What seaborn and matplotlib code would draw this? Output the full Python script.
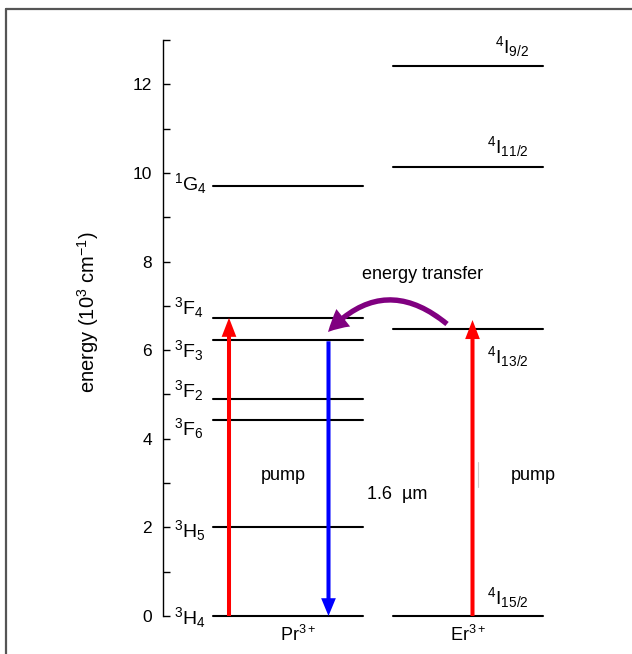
import numpy as np
import pandas as pd
import matplotlib
matplotlib.use("Agg")
import matplotlib.pyplot as plt
from matplotlib.lines import Line2D
import seaborn as sns

# Energy levels (10^3 cm^-1)
pr_levels = ["3H4", "3H5", "3F6", "3F2", "3F3", "3F4", "1G4"]
pr_energy = [0.0, 2.0, 4.42, 4.9, 6.23, 6.73, 9.71]
pr_labels = [r"$^3H_4$", r"$^3H_5$", r"$^3F_6$", r"$^3F_2$", r"$^3F_3$", r"$^3F_4$", r"$^1G_4$"]

er_levels = ["4I15/2", "4I13/2", "4I11/2", "4I9/2"]
er_energy = [0.0, 6.48, 10.14, 12.42]
er_labels = [r"$^4I_{15/2}$", r"$^4I_{13/2}$", r"$^4I_{11/2}$", r"$^4I_{9/2}$"]

# Transitions (start, end energies)
pr_pump = (0.0, 6.73)
pr_emission = (6.2, 0.0)
er_pump = (0.0, 6.68)
transfer = (6.59, 6.41)

yticks = [0, 2, 4, 6, 8, 10, 12]

# Layout (x positions in column units)
PR_X = (1.0, 4.0)
ER_X = (4.6, 7.6)
PR_LABEL_X = 0.22
ER_LABEL_X = 7.32
pr_label_base = [-0.18, 1.78, 4.09, 4.94, 5.85, 6.82, 9.62]
er_label_base = [0.27, 5.71, 10.45, 12.71]

sns.set_theme(style="ticks")
plt.rcParams["font.family"] = ["Liberation Sans", "DejaVu Sans"]
plt.rcParams["mathtext.fontset"] = "custom"
plt.rcParams["mathtext.rm"] = "Liberation Sans"
plt.rcParams["mathtext.it"] = "Liberation Sans:italic"
plt.rcParams["mathtext.bf"] = "Liberation Sans:bold"
plt.rcParams["mathtext.default"] = "regular"
plt.rcParams["text.color"] = "black"
plt.rcParams["axes.labelcolor"] = "black"
plt.rcParams["ytick.color"] = "black"
plt.rcParams["ytick.labelcolor"] = "black"

fig = plt.figure(figsize=(6.32, 6.54), dpi=100)
ax = fig.add_axes([163 / 632, 38 / 654, 457 / 632, 576 / 654])

# Level lines as two-point segments
rows = []
for name, e in zip(pr_levels, pr_energy):
    rows += [dict(level="Pr " + name, x=PR_X[0], energy=e), dict(level="Pr " + name, x=PR_X[1], energy=e)]
for name, e in zip(er_levels, er_energy):
    rows += [dict(level="Er " + name, x=ER_X[0], energy=e), dict(level="Er " + name, x=ER_X[1], energy=e)]
levels_df = pd.DataFrame(rows)

sns.lineplot(data=levels_df, x="x", y="energy", units="level", estimator=None,
             sort=False, color="black", lw=1.5, ax=ax, legend=False)
for ln in ax.lines:
    ln.set_clip_on(False)

def straight_arrow(x, y0, y1, color, tail=2.9, hl=13.7, hw=10.6):
    ax.annotate("", xy=(x, y1), xytext=(x, y0), annotation_clip=False,
                arrowprops=dict(arrowstyle=f"simple,head_length={hl/10},head_width={hw/10},tail_width={tail/10}",
                                mutation_scale=10, fc=color, ec="none", lw=0,
                                shrinkA=0, shrinkB=0))

straight_arrow(1.32, pr_pump[0], pr_pump[1], "#ff0000")
straight_arrow(3.31, pr_emission[0], pr_emission[1], "#0000ff", hl=12.8)
straight_arrow(6.19, er_pump[0], er_pump[1], "#ff0000")

# Energy transfer Er -> Pr
ax.annotate("", xy=(3.3, transfer[1]), xytext=(5.68, transfer[0]), annotation_clip=False,
            arrowprops=dict(arrowstyle="simple,head_length=1.5,head_width=1.6,tail_width=0.38",
                            mutation_scale=10, fc="#800080", ec="none", lw=0,
                            shrinkA=0, shrinkB=0, connectionstyle="arc3,rad=0.47"))

# faint mark near Er pump
ax.plot([6.3, 6.3], [2.91, 3.48], color="#cccccc", lw=0.8)

# Level labels
for lab, yb in zip(pr_labels, pr_label_base):
    ax.text(PR_LABEL_X, yb, lab, fontsize=14, ha="left", va="baseline", clip_on=False)
for lab, yb in zip(er_labels, er_label_base):
    ax.text(ER_LABEL_X, yb, lab, fontsize=14, ha="right", va="baseline", clip_on=False)

ax.text(2.4, 3.16, "pump", fontsize=13, ha="center", va="center")
ax.text(7.4, 3.16, "pump", fontsize=13, ha="center", va="center")
ax.text(4.08, 2.75, "1.6  \u00b5m", fontsize=13, ha="left", va="center")
ax.text(5.2, 7.7, "energy transfer", fontsize=13, ha="center", va="center")
ax.text(2.7, -0.42, r"Pr$^{3+}$", fontsize=13, ha="center", va="center", clip_on=False)
ax.text(6.1, -0.42, r"Er$^{3+}$", fontsize=13, ha="center", va="center", clip_on=False)

# Axes styling
ax.set_xlim(0, 9.14)
ax.set_ylim(0, 13)
ax.set_xlabel("")
ax.set_ylabel(r"energy (10$^3$ cm$^{-1}$)", fontsize=14.5, color="black")
ax.yaxis.set_label_coords(-0.136, 0.527)
ax.set_xticks([])
ax.set_yticks(yticks)
ax.set_yticks(np.arange(1, 14, 2), minor=True)
ax.tick_params(axis="y", which="both", direction="in", length=5, width=1, color="black",
               labelsize=12.5, labelcolor="black", pad=8)
for s in ["top", "right", "bottom"]:
    ax.spines[s].set_visible(False)
ax.spines["left"].set_color("black")
ax.spines["left"].set_linewidth(1)
ax.patch.set_alpha(0)

# Outer frame (top and left edges)
fig.add_artist(Line2D([5.5 / 632, 1.0], [1 - 8.5 / 654, 1 - 8.5 / 654], color="#555555", lw=1.6,
                      transform=fig.transFigure))
fig.add_artist(Line2D([5.5 / 632, 5.5 / 632], [0.0, 1 - 8.5 / 654], color="#555555", lw=1.6,
                      transform=fig.transFigure))

fig.savefig("out.png", dpi=100)
